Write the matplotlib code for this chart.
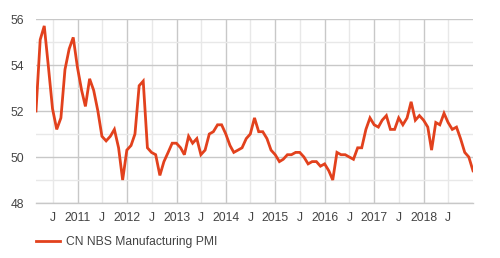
import matplotlib
matplotlib.use("Agg")
import matplotlib.pyplot as plt
import matplotlib.dates as mdates
import pandas as pd

plt.rcParams['font.family'] = ['Liberation Sans', 'DejaVu Sans']

series_name = "CN NBS Manufacturing PMI"
start_month = "2010-02"
pmi = [
    52.0, 55.1, 55.7, 53.9, 52.1, 51.2, 51.7, 53.8, 54.7, 55.2, 53.9,
    52.9, 52.2, 53.4, 52.9, 52.0, 50.9, 50.7, 50.9, 51.2, 50.4, 49.0, 50.3,
    50.5, 51.0, 53.1, 53.3, 50.4, 50.2, 50.1, 49.2, 49.8, 50.2, 50.6, 50.6,
    50.4, 50.1, 50.9, 50.6, 50.8, 50.1, 50.3, 51.0, 51.1, 51.4, 51.4, 51.0,
    50.5, 50.2, 50.3, 50.4, 50.8, 51.0, 51.7, 51.1, 51.1, 50.8, 50.3, 50.1,
    49.8, 49.9, 50.1, 50.1, 50.2, 50.2, 50.0, 49.7, 49.8, 49.8, 49.6, 49.7,
    49.4, 49.0, 50.2, 50.1, 50.1, 50.0, 49.9, 50.4, 50.4, 51.2, 51.7, 51.4,
    51.3, 51.6, 51.8, 51.2, 51.2, 51.7, 51.4, 51.7, 52.4, 51.6, 51.8, 51.6,
    51.3, 50.3, 51.5, 51.4, 51.9, 51.5, 51.2, 51.3, 50.8, 50.2, 50.0, 49.4,
]
dates = pd.date_range(start=start_month, periods=len(pmi), freq="ME")
y_major = [48, 50, 52, 54, 56]

line_color = "#e2411d"
text_color = "#444444"

fig = plt.figure(figsize=(5.0, 2.58), dpi=100)
ax = fig.add_axes([36/500, 1-203/258, (473-36)/500, (203-19)/258])

ax.plot(dates, pmi, color=line_color, lw=2.0, label=series_name, zorder=3,
        solid_joinstyle='miter')

ax.set_xlim(dates[0], dates[-1])
ax.set_ylim(48, 56)

ax.xaxis.set_major_locator(mdates.YearLocator())
ax.xaxis.set_major_formatter(mdates.DateFormatter('%Y'))
ax.xaxis.set_minor_locator(mdates.MonthLocator(bymonth=[7]))
ax.xaxis.set_minor_formatter(mdates.DateFormatter('J'))
ax.set_yticks(y_major)
ax.set_yticks([49, 51, 53, 55], minor=True)

ax.grid(which='major', color='#c8c8c8', lw=1.0, zorder=0)
ax.grid(which='minor', color='#e8e8e8', lw=1.0, zorder=0)
ax.set_axisbelow(True)

for s in ['left', 'right', 'top']:
    ax.spines[s].set_visible(False)
ax.spines['bottom'].set_color('#c8c8c8')
ax.spines['bottom'].set_linewidth(1.0)

ax.tick_params(axis='x', which='both', length=0, pad=6.5, labelsize=8.7, labelcolor=text_color)
ax.tick_params(axis='y', which='both', length=0, pad=8.5, labelsize=8.7, labelcolor=text_color)
ax.tick_params(axis='y', which='minor', labelleft=False)

ax.legend(loc='center left', bbox_to_anchor=(36/500, 1-242/258),
          bbox_transform=fig.transFigure, frameon=False, borderaxespad=0,
          borderpad=0, handlelength=2.0, handletextpad=0.5, fontsize=8.7,
          labelcolor=text_color)

fig.savefig("out.png", dpi=100)
